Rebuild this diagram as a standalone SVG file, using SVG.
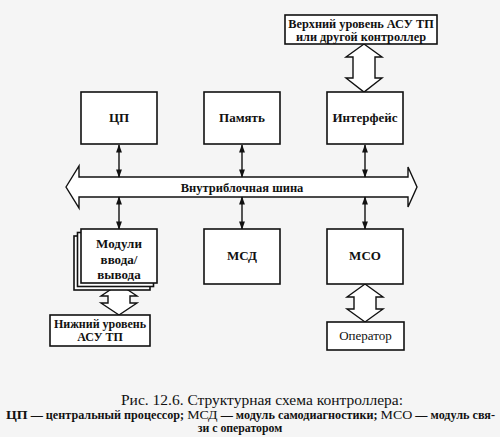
<svg xmlns="http://www.w3.org/2000/svg" width="500" height="437" viewBox="0 0 500 437">
<style>
.box{fill:#fff;stroke:#111;stroke-width:1.6}
.lbl{font-family:"Liberation Serif","DejaVu Serif",serif;font-weight:bold;font-size:13px;fill:#111;text-anchor:middle}
.hol{fill:#fff;stroke:#111;stroke-width:1.4;stroke-linejoin:miter}
.ln{stroke:#111;stroke-width:1.4;fill:none}
.cap{font-family:"Liberation Serif","DejaVu Serif",serif;fill:#111}
</style>
<defs>
<marker id="ah" viewBox="0 0 10 10" refX="9" refY="5" markerWidth="6" markerHeight="6" orient="auto-start-reverse">
<path d="M0,1.5 L10,5 L0,8.5 z" fill="#111"/>
</marker>
</defs>
<rect width="500" height="437" fill="#f5f5f5"/>
<g id="connectors">
<polygon class="hol" points="364,44 382,57 375,57 375,78 382,78 364,92 346,78 353,78 353,57 346,57"/>
<polygon class="hol" points="66,187 79,166 79,177 408,177 408,167 417,187 408,207 408,197 79,197 79,208"/>
<line class="ln" x1="119" y1="145" x2="119" y2="177" marker-start="url(#ah)" marker-end="url(#ah)"/>
<line class="ln" x1="242" y1="145" x2="242" y2="177" marker-start="url(#ah)" marker-end="url(#ah)"/>
<line class="ln" x1="365" y1="145" x2="365" y2="177" marker-start="url(#ah)" marker-end="url(#ah)"/>
<line class="ln" x1="119" y1="197" x2="119" y2="229" marker-start="url(#ah)" marker-end="url(#ah)"/>
<line class="ln" x1="242" y1="197" x2="242" y2="229" marker-start="url(#ah)" marker-end="url(#ah)"/>
<line class="ln" x1="365" y1="197" x2="365" y2="229" marker-start="url(#ah)" marker-end="url(#ah)"/>
<polygon class="hol" points="119,284 137,296 130,296 130,303 137,303 119,315 101,303 108,303 108,296 101,296"/>
<polygon class="hol" points="365,284 383,297 376,297 376,309 383,309 365,322 347,309 354,309 354,297 347,297"/>
</g>
<text class="lbl" x="242" y="192" style="font-size:12.5px">Внутриблочная шина</text>
<g id="upper">
<rect class="box" x="285" y="15" width="152" height="29"/>
<text class="lbl" x="361" y="28" style="font-size:12.3px">Верхний уровень АСУ ТП</text>
<text class="lbl" x="361" y="40.5" style="font-size:12.3px">или другой контроллер</text>
</g>
<g id="cpu">
<rect class="box" x="81" y="92" width="76" height="52"/>
<text class="lbl" x="119" y="122">ЦП</text>
</g>
<g id="memory">
<rect class="box" x="204" y="92" width="76" height="52"/>
<text class="lbl" x="242" y="122">Память</text>
</g>
<g id="interface">
<rect class="box" x="327" y="92" width="76" height="52"/>
<text class="lbl" x="365" y="122">Интерфейс</text>
</g>
<g id="io">
<rect class="box" x="74" y="236" width="76" height="54"/>
<rect class="box" x="77.5" y="232.5" width="76" height="54"/>
<rect class="box" x="81" y="229" width="76" height="54"/>
<text class="lbl" x="119" y="248">Модули</text>
<text class="lbl" x="119" y="264">ввода/</text>
<text class="lbl" x="119" y="279">вывода</text>
</g>
<g id="msd">
<rect class="box" x="204" y="229" width="76" height="55"/>
<text class="lbl" x="242" y="260">МСД</text>
</g>
<g id="mso">
<rect class="box" x="327" y="229" width="76" height="55"/>
<text class="lbl" x="365" y="260">МСО</text>
</g>
<g id="lower">
<rect class="box" x="50" y="315" width="100" height="31"/>
<text class="lbl" x="100" y="328" style="font-size:12px">Нижний уровень</text>
<text class="lbl" x="100" y="341" style="font-size:12px">АСУ ТП</text>
</g>
<g id="operator">
<rect class="box" x="327" y="322" width="77" height="28"/>
<text class="lbl" x="365.5" y="340" style="font-weight:normal">Оператор</text>
</g>
<text class="cap" x="121" y="405" font-size="15.5" textLength="282" lengthAdjust="spacingAndGlyphs">Рис. 12.6. Структурная схема контроллера:</text>
<text class="cap" x="6" y="419" font-size="11.8" font-weight="bold" textLength="489" lengthAdjust="spacingAndGlyphs"><tspan font-size="13.5">ЦП</tspan> — центральный процессор; <tspan font-size="13.5" font-weight="normal">МСД</tspan> — модуль самодиагностики; <tspan font-size="13.5" font-weight="normal">МСО</tspan> — модуль свя-</text>
<text class="cap" x="240" y="432" text-anchor="middle" font-size="11.8" font-weight="bold">зи с оператором</text>
</svg>
